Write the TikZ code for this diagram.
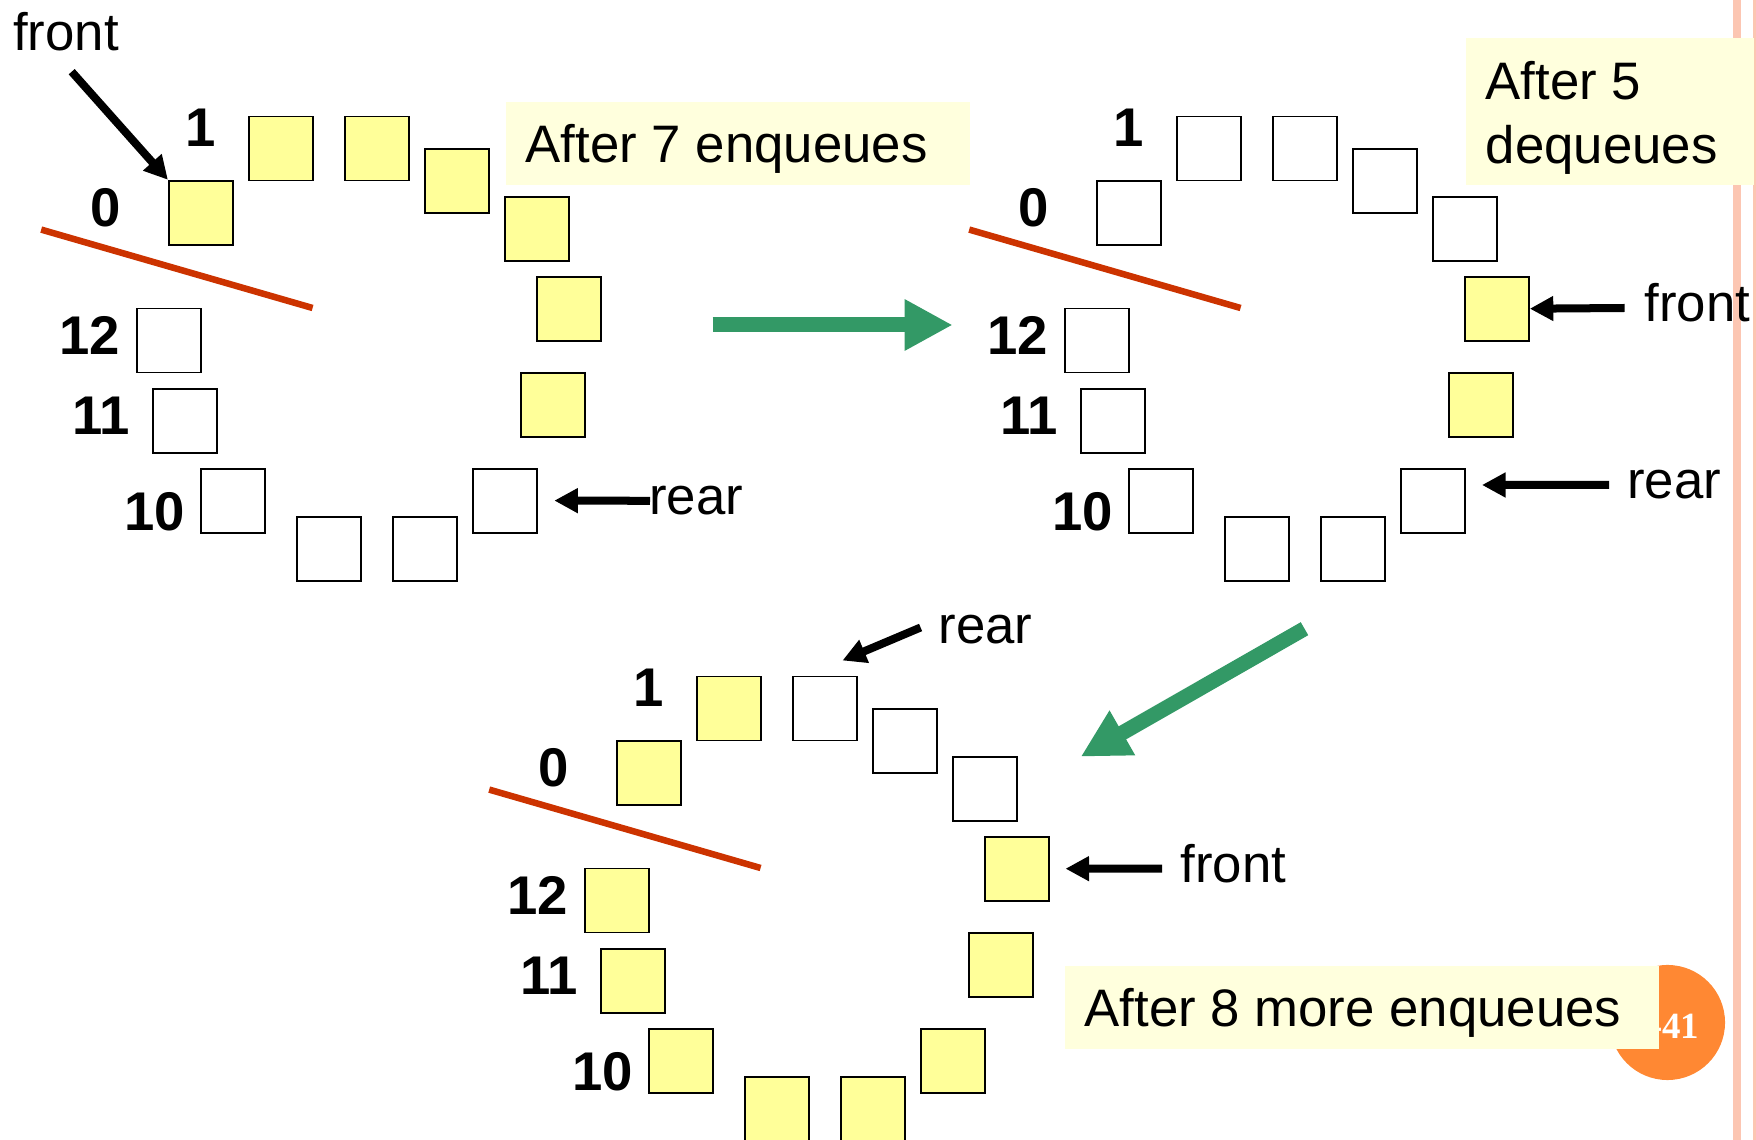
\documentclass[tikz,border=0pt]{standalone}
\usepackage{fontspec}
\setmainfont{Liberation Sans}
\newfontfamily\pagefont{Liberation Serif}
\usetikzlibrary{arrows.meta}
\definecolor{cellyellow}{RGB}{255,255,153}
\definecolor{noteyellow}{RGB}{255,255,221}
\definecolor{sepred}{RGB}{204,51,0}
\definecolor{arrowgreen}{RGB}{51,153,102}
\definecolor{pageorange}{RGB}{255,136,51}
\definecolor{railpink}{RGB}{252,198,178}

\begin{document}
\begin{tikzpicture}[x=0.01cm, y=-0.01cm,
  cell/.style={draw, line width=0.55pt, minimum size=0.64cm, inner sep=0pt},
  idx/.style={inner sep=0pt, font=\fontsize{15.5}{18}\selectfont\bfseries},
  txt/.style={inner sep=0pt, font=\fontsize{15}{18.4}\selectfont},
  note/.style={fill=noteyellow, inner sep=0pt},
  ptr/.style={-{Triangle[length=0.235cm,width=0.235cm]}, line width=0.08cm},
  move/.style={-{Triangle[length=0.48cm,width=0.48cm]}, line width=0.15cm, draw=arrowgreen},
  cut/.style={line width=0.065cm, draw=sepred}]

\clip (0,0) rectangle (1756,1140);
% side rail and page number
\fill[railpink] (1733,0) rectangle (1741,1140);
\fill[railpink] (1753,0) rectangle (1756,1140);
\node[circle, fill=pageorange, minimum size=1.15cm, inner sep=0pt] (pg) at (1667.5,1022.5) {};
\node[inner sep=0pt, anchor=base east, text=white, font=\pagefont\fontsize{10.5}{12}\selectfont\bfseries] (pgnum) at (1700,1038.3) {-41};

% cells: index / x / y / after 7 enq / after 5 deq / after 8 more enq
\foreach \i/\px/\py/\fa/\fb/\fc in {
  0/200.9/212.8/cellyellow/white/cellyellow,
  1/281/148.5/cellyellow/white/cellyellow,
  2/376.8/148.5/cellyellow/white/white,
  3/456.8/180.9/cellyellow/white/white,
  4/536.8/228.9/cellyellow/white/white,
  5/568.8/308.7/cellyellow/cellyellow/cellyellow,
  6/552.8/404.9/cellyellow/cellyellow/cellyellow,
  7/505/500.6/white/white/cellyellow,
  8/424.8/548.8/white/white/cellyellow,
  9/328.9/548.8/white/white/cellyellow,
  10/232.9/500.6/white/white/cellyellow,
  11/185/420.8/white/white/cellyellow,
  12/169/340.5/white/white/cellyellow}
{
  \node[cell, fill=\fa] (a\i) at (\px,\py) {};
  \node[cell, fill=\fb] (b\i) at (\px+928,\py) {};
  \node[cell, fill=\fc] (c\i) at (\px+448,\py+560) {};
}

% index labels and the wrap line
\foreach \d/\dx/\dy in {a/0/0, b/928/0, c/448/560}
{
  \begin{scope}[shift={(\dx,\dy)}]
    \node[idx] (lab\d0) at (106,207.6) {0};
    \node[idx] (lab\d1) at (200.5,127.5) {1};
    \node[idx] (lab\d12) at (90,335.5) {12};
    \node[idx] (lab\d11) at (101.3,416) {11};
    \node[idx] (lab\d10) at (154.5,512.2) {10};
    \draw[cut] (41.2,229.6) -- (312.6,308);
  \end{scope}
}

% notes
\node[note, anchor=north west, minimum width=4.638cm, minimum height=0.831cm] (n1) at (505,101.4) {};
\node[txt, anchor=base west] (n1t) at (525,162.6) {After 7 enqueues};
\node[note, anchor=north west, minimum width=2.879cm, minimum height=1.475cm] (n2) at (1464.8,37) {};
\node[txt, anchor=base west, align=left] (n2t) at (1485,163.8) {After 5\\dequeues};
\node[note, anchor=north west, minimum width=5.93cm, minimum height=0.836cm] (n3) at (1064.7,965) {};
\node[txt, anchor=base west] (n3t) at (1084,1026.4) {After 8 more enqueues};

% front / rear pointers
\node[txt, anchor=base west] (fA) at (12.5,50.5) {front};
\coordinate (fAt) at (71.7,71.7);
\draw[ptr] (fAt) -- (a0.north west);
\node[txt, anchor=base west] (rA) at (648.5,514.7) {rear};
\coordinate (rAt) at (650,500.8);
\draw[ptr] (rAt) -- ([xshift=0.163cm]a7.east);

\node[txt, anchor=base west] (fB) at (1644,321.5) {front};
\coordinate (fBt) at (1624.7,308);
\draw[ptr] (fBt) -- (b5.east);
\node[txt, anchor=base west] (rB) at (1626.5,499) {rear};
\coordinate (rBt) at (1609,485);
\draw[ptr] (rBt) -- ([xshift=0.16cm,yshift=0.156cm]b7.east);

\node[txt, anchor=base west] (rC) at (938,643.6) {rear};
\coordinate (rCt) at (920.6,627.5);
\draw[ptr] (rCt) -- ([xshift=-0.153cm,yshift=0.15cm]c2.north east);
\node[txt, anchor=base west] (fC) at (1180,883) {front};
\coordinate (fCt) at (1162,868.6);
\draw[ptr] (fCt) -- ([xshift=0.157cm]c5.east);

% steps
\coordinate (m1s) at (712.7,325);
\coordinate (m1e) at (952.7,325);
\draw[move] (m1s) -- (m1e);
\coordinate (m2s) at (1304.5,628.7);
\coordinate (m2e) at (1080.7,756.7);
\draw[move] (m2s) -- (m2e);

\end{tikzpicture}
\end{document}
